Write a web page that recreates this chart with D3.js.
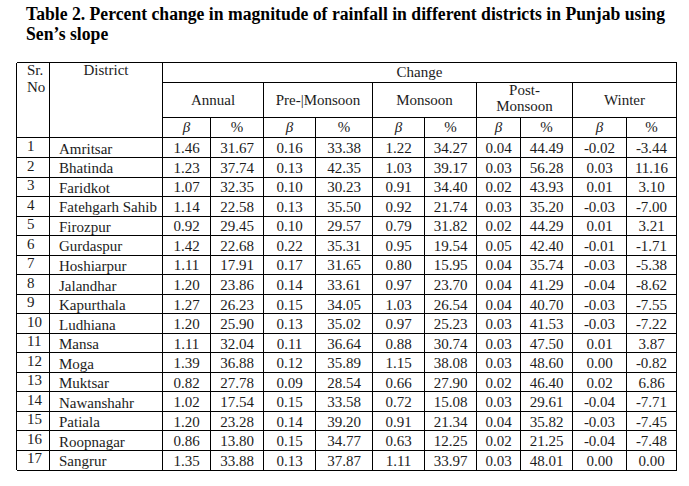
<!DOCTYPE html>
<html><head><meta charset="utf-8">
<script src="https://cdn.jsdelivr.net/npm/d3@7"></script>
<style>body{margin:0;background:#fff}</style>
</head><body><svg id="c" width="689" height="486"></svg>
<script>
// ---------- DATA ----------
const titleLines = ["Table 2. Percent change in magnitude of rainfall in different districts in Punjab using", "Sen\u2019s slope"];
const srNo = [1,2,3,4,5,6,7,8,9,10,11,12,13,14,15,16,17];
const districts = ["Amritsar","Bhatinda","Faridkot","Fatehgarh Sahib","Firozpur","Gurdaspur","Hoshiarpur","Jalandhar","Kapurthala","Ludhiana","Mansa","Moga","Muktsar","Nawanshahr","Patiala","Roopnagar","Sangrur"];
const annualBeta = [1.46,1.23,1.07,1.14,0.92,1.42,1.11,1.20,1.27,1.20,1.11,1.39,0.82,1.02,1.20,0.86,1.35];
const annualPct  = [31.67,37.74,32.35,22.58,29.45,22.68,17.91,23.86,26.23,25.90,32.04,36.88,27.78,17.54,23.28,13.80,33.88];
const preBeta    = [0.16,0.13,0.10,0.13,0.10,0.22,0.17,0.14,0.15,0.13,0.11,0.12,0.09,0.15,0.14,0.15,0.13];
const prePct     = [33.38,42.35,30.23,35.50,29.57,35.31,31.65,33.61,34.05,35.02,36.64,35.89,28.54,33.58,39.20,34.77,37.87];
const monBeta    = [1.22,1.03,0.91,0.92,0.79,0.95,0.80,0.97,1.03,0.97,0.88,1.15,0.66,0.72,0.91,0.63,1.11];
const monPct     = [34.27,39.17,34.40,21.74,31.82,19.54,15.95,23.70,26.54,25.23,30.74,38.08,27.90,15.08,21.34,12.25,33.97];
const postBeta   = [0.04,0.03,0.02,0.03,0.02,0.05,0.04,0.04,0.04,0.03,0.03,0.03,0.02,0.03,0.04,0.02,0.03];
const postPct    = [44.49,56.28,43.93,35.20,44.29,42.40,35.74,41.29,40.70,41.53,47.50,48.60,46.40,29.61,35.82,21.25,48.01];
const winBeta    = [-0.02,0.03,0.01,-0.03,0.01,-0.01,-0.03,-0.04,-0.03,-0.03,0.01,0.00,0.02,-0.04,-0.03,-0.04,0.00];
const winPct     = [-3.44,11.16,3.10,-7.00,3.21,-1.71,-5.38,-8.62,-7.55,-7.22,3.87,-0.82,6.86,-7.71,-7.45,-7.48,0.00];
const seasons = [["Annual"],["Pre-|Monsoon"],["Monsoon"],["Post-","Monsoon"],["Winter"]];
const subHeaders = ["\u03B2","%"];
const headSr = ["Sr.","No"], headDistrict = "District", headChange = "Change";

// ---------- LAYOUT ----------
const svg = d3.select("#c");
const serif = "'Liberation Serif','Times New Roman',serif";
const ink = "#1c1c1c";
const valueCols = [annualBeta,annualPct,preBeta,prePct,monBeta,monPct,postBeta,postPct,winBeta,winPct];
const edges = [16.5,49.5,162.5,210.5,263.5,315.5,372.5,424.5,476.5,520.5,572.5,626.5,676.5];
const tableTop = 62.5, changeBottom = 82.5, seasonBottom = 117.5, headBottom = 137.5, tableBottom = 469.5;
const y = d3.scaleBand().domain(districts).range([headBottom, tableBottom]);
const fmt = v => v.toFixed(2);

// Title
const tg = svg.append("g").attr("font-family", serif).attr("font-weight", "bold").attr("font-size", 18).attr("fill", "#000");
const t1 = tg.append("text").attr("x", 26).attr("y", 20).text(titleLines[0]);
const natural = t1.node().getComputedTextLength();
const sx = 639 / natural;
t1.attr("textLength", 639).attr("lengthAdjust", "spacingAndGlyphs");
const t2 = tg.append("text").attr("x", 26).attr("y", 40).text(titleLines[1]);
t2.attr("textLength", t2.node().getComputedTextLength() * sx).attr("lengthAdjust", "spacingAndGlyphs");

// Lines
const lines = svg.append("g").attr("stroke", "#000").attr("stroke-width", 1).attr("shape-rendering", "crispEdges");
const hl = (x1, x2, yy) => lines.append("line").attr("x1", x1).attr("x2", x2).attr("y1", yy).attr("y2", yy);
const vl = (xx, y1, y2) => lines.append("line").attr("x1", xx).attr("x2", xx).attr("y1", y1).attr("y2", y2);
hl(edges[0], edges[12], tableTop);
hl(edges[2], edges[12], changeBottom);
hl(edges[2], edges[12], seasonBottom);
hl(edges[0], edges[12], headBottom);
districts.forEach(d => hl(edges[0], edges[12], Math.round(y(d) + y.bandwidth()) + 0.5));
vl(edges[0], tableTop, tableBottom);
vl(edges[1], tableTop, tableBottom);
vl(edges[2], tableTop, tableBottom);
vl(edges[12], tableTop, tableBottom);
[4,6,8,10].forEach(i => vl(edges[i], changeBottom, tableBottom));
[3,5,7,9,11].forEach(i => vl(edges[i], seasonBottom, tableBottom));

// Header text
const txt = svg.append("g").attr("font-family", serif).attr("font-size", 15).attr("fill", ink);
txt.append("text").attr("x", 27).attr("y", 75).text(headSr[0]);
txt.append("text").attr("x", 27).attr("y", 92).text(headSr[1]);
txt.append("text").attr("x", (edges[1] + edges[2]) / 2).attr("y", 75).attr("text-anchor", "middle").text(headDistrict);
txt.append("text").attr("x", (edges[2] + edges[12]) / 2).attr("y", 77).attr("text-anchor", "middle").text(headChange);
seasons.forEach((s, i) => {
  const cx = (edges[2 + 2 * i] + edges[4 + 2 * i]) / 2;
  if (s.length === 1) {
    txt.append("text").attr("x", cx).attr("y", 105).attr("text-anchor", "middle").text(s[0]);
  } else {
    txt.append("text").attr("x", cx).attr("y", 95).attr("text-anchor", "middle").text(s[0]);
    txt.append("text").attr("x", cx).attr("y", 111).attr("text-anchor", "middle").text(s[1]);
  }
  subHeaders.forEach((h, j) => {
    const c = 2 + 2 * i + j;
    txt.append("text").attr("x", (edges[c] + edges[c + 1]) / 2).attr("y", 132)
      .attr("text-anchor", "middle").attr("font-style", j === 0 ? "italic" : null).text(h);
  });
});

// Body
const rows = txt.selectAll("g.row").data(districts).join("g").attr("class", "row")
  .attr("transform", d => `translate(0,${y(d)})`);
rows.append("text").attr("x", 27).attr("y", 13.5).text((d, i) => srNo[i]);
rows.append("text").attr("x", 59).attr("y", 16.3).text(d => d);
valueCols.forEach((col, c) => {
  rows.append("text").attr("x", (edges[c + 2] + edges[c + 3]) / 2).attr("y", 15.8)
    .attr("text-anchor", "middle").text((d, i) => fmt(col[i]));
});
</script></body></html>
